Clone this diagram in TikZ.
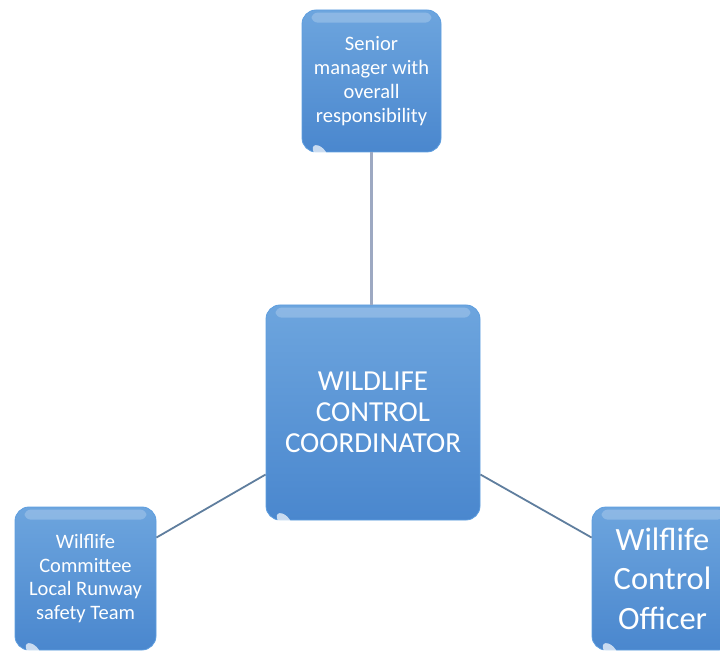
\documentclass[tikz,border=0pt]{standalone}
\usepackage{fontspec}
\setmainfont{Carlito}
\usetikzlibrary{calc}
\newcommand\glossybox[1]{%
  \fill[white, opacity=0.22, rounded corners=6pt]
    ($(#1.north west)+(10,-3)$) rectangle ($(#1.north east)+(-10,-13)$);
  \fill[white, opacity=0.7, rotate around={-45:($(#1.south west)+(13,13)$)}]
    ($(#1.south west)+(13,13)$) ellipse (9pt and 5pt);
}
\begin{document}
\begin{tikzpicture}[x=1pt,y=1pt,
  box/.style={draw=boxedge, line width=0.8pt, rounded corners=14pt, top color=boxtop, bottom color=boxbot,
    text=white, align=center, inner sep=2pt},
  vlink/.style={draw=vlinkcol, line width=2.6pt},
  link/.style={draw=linkcol, line width=1.8pt}]
\definecolor{boxtop}{HTML}{6DA5DE}
\definecolor{boxbot}{HTML}{4A87CE}
\definecolor{boxedge}{HTML}{5E9EDF}
\definecolor{vlinkcol}{HTML}{9DA9C2}
\definecolor{linkcol}{HTML}{5F7E9E}
\useasboundingbox (0,0) rectangle (720,651);
\begin{scope}
\clip (0,0) rectangle (720,651);
\node[box, minimum width=139pt, minimum height=142pt,
  font=\fontsize{20.5}{24}\selectfont] (top) at (371.5,570) {Senior\\manager with\\overall\\responsibility};
\node[box, minimum width=214pt, minimum height=215pt,
  font=\fontsize{29}{31}\selectfont] (center) at (373,238.5) {WILDLIFE\\CONTROL\\COORDINATOR};
\node[box, minimum width=141pt, minimum height=143pt,
  font=\fontsize{20.5}{23.7}\selectfont] (left) at (85.5,72.5) {Wilflife\\Committee\\Local Runway\\safety Team};
\node[box, minimum width=141pt, minimum height=143pt,
  font=\fontsize{32.5}{39.5}\selectfont] (right) at (662.5,72.5) {Wilflife\\Control\\Officer};
\glossybox{top}
\glossybox{center}
\glossybox{left}
\glossybox{right}
\end{scope}
\draw[vlink] (top.south) -- (top.south |- center.north);
\draw[link] (left.30) -- (center.210);
\draw[link] (center.-30) -- (right.150);
\end{tikzpicture}
\end{document}
